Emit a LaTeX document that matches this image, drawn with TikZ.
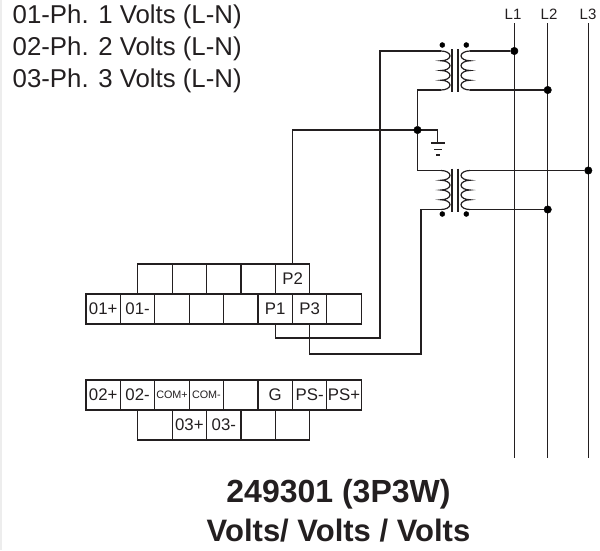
\documentclass[tikz,border=0pt]{standalone}
\usepackage{fontspec}
\setmainfont{Liberation Sans}
\pgfdeclarelayer{edgelayer}
\pgfdeclarelayer{nodelayer}
\pgfsetlayers{edgelayer,nodelayer,main}
\definecolor{inkgray}{HTML}{231F20}
\definecolor{edgegray}{HTML}{EDEDED}
\tikzstyle{cell}=[rectangle, draw=inkgray, line width=1.2pt, minimum width=34.4pt, minimum height=30pt, inner sep=0pt, font=\fontsize{16.8}{18}\selectfont, text=inkgray]
\tikzstyle{smallcell}=[cell, font=\fontsize{10.8}{12}\selectfont]
\tikzstyle{blackvertex}=[circle, fill=black, draw=black, inner sep=0pt, minimum size=7.5pt]
\tikzstyle{polarity}=[circle, fill=black, draw=black, inner sep=0pt, minimum size=5pt]
\tikzstyle{edge}=[draw=inkgray, line width=1.2pt]
\tikzstyle{infotext}=[anchor=base west, inner sep=0pt, text=inkgray, font=\fontsize{25.8}{30}\selectfont]
\tikzstyle{titletext}=[anchor=base, inner sep=0pt, text=inkgray, font=\fontsize{31}{36}\selectfont\bfseries]
\tikzstyle{linetext}=[anchor=base, inner sep=0pt, text=inkgray, font=\fontsize{15}{17}\selectfont]
\newcommand{\bumpsleft}{arc[start angle=90, end angle=270, x radius=9pt, y radius=4.875pt] arc[start angle=90, end angle=270, x radius=9pt, y radius=4.875pt] arc[start angle=90, end angle=270, x radius=9pt, y radius=4.875pt] arc[start angle=90, end angle=270, x radius=9pt, y radius=4.875pt]}
\newcommand{\bumpsright}{arc[start angle=90, end angle=-90, x radius=9pt, y radius=4.875pt] arc[start angle=90, end angle=-90, x radius=9pt, y radius=4.875pt] arc[start angle=90, end angle=-90, x radius=9pt, y radius=4.875pt] arc[start angle=90, end angle=-90, x radius=9pt, y radius=4.875pt]}

\begin{document}
\begin{tikzpicture}[x=1pt, y=-1pt]
	\useasboundingbox (0,0) rectangle (600,550);
	\fill[edgegray] (0,0) rectangle (1.5,550);
	\begin{pgfonlayer}{nodelayer}

	%texts
		\node [style=infotext] (info1) at (12.5,23.5) {01-Ph. 1 Volts (L-N)};
		\node [style=infotext] (info2) at (12.5,55.5) {02-Ph. 2 Volts (L-N)};
		\node [style=infotext] (info3) at (12.5,87.5) {03-Ph. 3 Volts (L-N)};
		\node [style=titletext, font=\fontsize{32}{36}\selectfont\bfseries] (title1) at (338.5,502.5) {249301 (3P3W)};
		\node [style=titletext] (title2) at (338.5,541) {Volts/ Volts / Volts};
		\node [style=linetext] (L1) at (513,19.5) {L1};
		\node [style=linetext] (L2) at (549,19.5) {L2};
		\node [style=linetext] (L3) at (588,19.5) {L3};

	%upper terminals
		\node [style=cell] (a1) at (155.0,279) {};
		\node [style=cell] (a2) at (189.4,279) {};
		\node [style=cell] (a3) at (223.8,279) {};
		\node [style=cell] (a4) at (258.2,279) {};
		\node [style=cell] (P2) at (292.6,279) {P2};
		\node [style=cell] (b1) at (103.2,309) {01+};
		\node [style=cell] (b2) at (137.6,309) {01-};
		\node [style=cell] (b3) at (172.0,309) {};
		\node [style=cell] (b4) at (206.4,309) {};
		\node [style=cell] (b5) at (240.8,309) {};
		\node [style=cell] (P1) at (275.2,309) {P1};
		\node [style=cell] (P3) at (309.6,309) {P3};
		\node [style=cell] (b8) at (344.0,309) {};

	%lower terminals
		\node [style=cell] (c1) at (103.2,395) {02+};
		\node [style=cell] (c2) at (137.6,395) {02-};
		\node [style=smallcell] (c3) at (172.0,395) {COM+};
		\node [style=smallcell] (c4) at (206.4,395) {COM-};
		\node [style=cell] (c5) at (240.8,395) {};
		\node [style=cell] (c6) at (275.2,395) {G};
		\node [style=cell] (c7) at (309.6,395) {PS-};
		\node [style=cell] (c8) at (344.0,395) {PS+};
		\node [style=cell] (d1) at (155.0,425) {};
		\node [style=cell] (d2) at (189.4,425) {03+};
		\node [style=cell] (d3) at (223.8,425) {03-};
		\node [style=cell] (d4) at (258.2,425) {};
		\node [style=cell] (d5) at (292.6,425) {};

	%junctions
		\node [style=blackvertex] (J) at (417.5,130) {};
		\node [style=blackvertex] (D1) at (514.3,51) {};
		\node [style=blackvertex] (D2) at (547.7,90) {};
		\node [style=blackvertex] (D3) at (588.3,170.5) {};
		\node [style=blackvertex] (D4) at (547.7,209.5) {};
		\node [style=polarity] (dot1) at (442.3,45) {};
		\node [style=polarity] (dot2) at (466.3,45) {};
		\node [style=polarity] (dot3) at (442.3,214) {};
		\node [style=polarity] (dot4) at (466.3,214) {};

	\end{pgfonlayer}
	\begin{pgfonlayer}{edgelayer}

		\coordinate (top1) at (514.3,23);
		\coordinate (top2) at (547.7,23);
		\coordinate (top3) at (588.3,23);
		\coordinate (end1) at (514.3,458);
		\coordinate (end2) at (547.7,458);
		\coordinate (end3) at (588.3,458);
		\coordinate (pt1) at (441,51);
		\coordinate (pb1) at (441,90);
		\coordinate (st1) at (470,51);
		\coordinate (sb1) at (470,90);
		\coordinate (pt2) at (441,170.5);
		\coordinate (pb2) at (441,209.5);
		\coordinate (st2) at (470,170.5);
		\coordinate (sb2) at (470,209.5);
		\coordinate (wire1) at (380,338);
		\coordinate (wire3) at (421,354);
		\coordinate (gnd) at (437.7,143);

		%phase lines
		\draw [style=edge] (top1) to (end1);
		\draw [style=edge] (top2) to (end2);
		\draw [style=edge] (top3) to (end3);

		%transformers
		\draw [style=edge] (pt1) \bumpsright;
		\draw [style=edge] (st1) \bumpsleft;
		\draw [style=edge] (pt2) \bumpsright;
		\draw [style=edge] (st2) \bumpsleft;
		\draw [style=edge] (452,49) -- (452,92);
		\draw [style=edge] (458,49) -- (458,92);
		\draw [style=edge] (452,168.5) -- (452,211.5);
		\draw [style=edge] (458,168.5) -- (458,211.5);

		%wiring
		\draw [style=edge] (st1) to (D1);
		\draw [style=edge] (sb1) to (D2);
		\draw [style=edge] (st2) to (D3);
		\draw [style=edge] (sb2) to (D4);
		\draw [style=edge] (pb1) -| (J);
		\draw [style=edge] (J) |- (pt2);
		\draw [style=edge] (J) -| (P2.north);
		\draw [style=edge] (P1.south) |- (wire1) |- (pt1);
		\draw [style=edge] (pb2) -| (wire3) -| (P3.south);

		%ground
		\draw [style=edge] (J) -| (gnd);
		\draw [style=edge] (431,143) -- (445,143);
		\draw [style=edge] (434,149.5) -- (442,149.5);
		\draw [style=edge] (436,155) -- (440,155);

	\end{pgfonlayer}
\end{tikzpicture}
\end{document}
